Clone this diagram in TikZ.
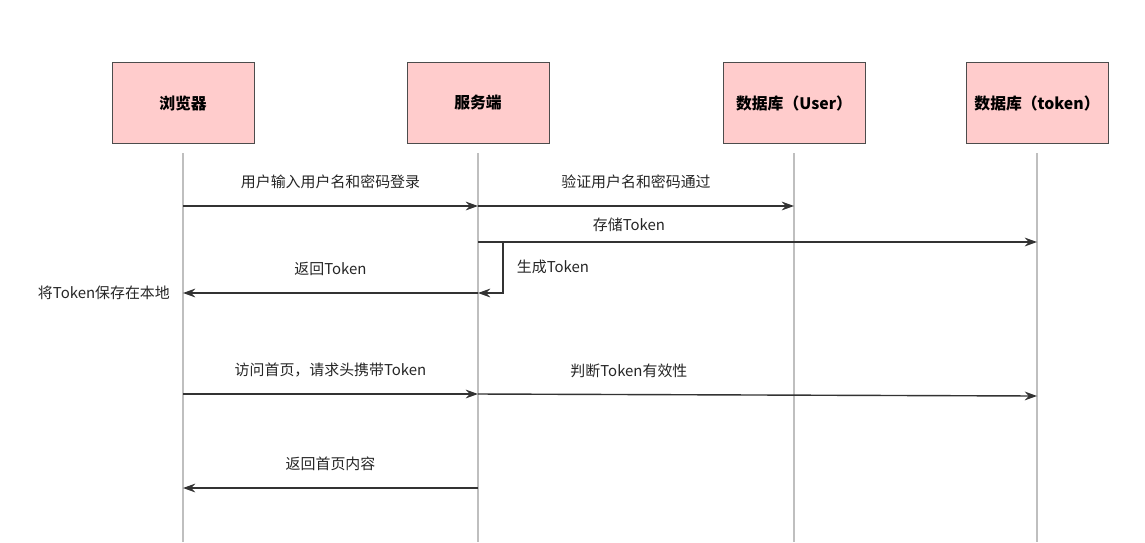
\documentclass[tikz,border=0pt]{standalone}
\usepackage{fontspec}
\setmainfont{Noto Sans CJK SC}
\usetikzlibrary{arrows.meta}
\tikzset{
  actor/.style={draw=black!70, fill=red!20, minimum width=2.84cm, minimum height=1.62cm,
    font=\fontsize{9}{11}\selectfont\bfseries},
  life/.style={draw=black!25, line width=0.6pt},
  msg/.style={draw=black!80, line width=0.8pt, -{Stealth[length=7pt,width=5pt]}},
  lbl/.style={font=\fontsize{8.5}{10}\selectfont, text=black!85}
}
\begin{document}
\begin{tikzpicture}[x=0.02cm, y=-0.02cm]
  \useasboundingbox (0,0) rectangle (1145,542);
  %% actors
  \node[actor] (browser) at (183,103) {浏览器};
  \node[actor] (server) at (478,103) {服务端};
  \node[actor] (dbuser) at (794,103) {数据库（User）};
  \node[actor] (dbtoken) at (1037,103) {数据库（token）};
  %% lifelines
  \foreach \a/\x in {browser/183, server/478, dbuser/794, dbtoken/1037} {
    \coordinate (\a top) at (\x,153);
    \coordinate (\a bot) at (\x,542);
    \draw[life] (\a top) -- (\a bot);
  }
  %% messages
  \coordinate (m1a) at (183,206); \coordinate (m1b) at (478,206);
  \coordinate (m2b) at (794,206);
  \coordinate (m3a) at (478,242); \coordinate (m3b) at (1037,242);
  \coordinate (m4a) at (478,293); \coordinate (m4b) at (183,293);
  \coordinate (m5a) at (183,394); \coordinate (m5b) at (478,394);
  \coordinate (m6b) at (1037,396);
  \coordinate (m7a) at (478,488); \coordinate (m7b) at (183,488);
  \draw[msg] (m1a) -- node[lbl, above=6pt] {用户输入用户名和密码登录} (m1b);
  \draw[msg] (m1b) -- node[lbl, above=6pt] {验证用户名和密码通过} (m2b);
  \draw[msg] (m3a) -- node[lbl, above=2pt, pos=0.27] {存储Token} (m3b);
  \draw[msg] (m3a) -- ++(25,0) |- (m4a);
  \node[lbl] (gen) at (553,267) {生成Token};
  \draw[msg] (m4a) -- node[lbl, above=6pt] {返回Token} (m4b);
  \node[lbl, anchor=east] (save) at (176,293) {将Token保存在本地};
  \draw[msg] (m5a) -- node[lbl, above=6pt] {访问首页，请求头携带Token} (m5b);
  \draw[msg] (m5b) -- node[lbl, above=6pt, pos=0.27] {判断Token有效性} (m6b);
  \draw[msg] (m7a) -- node[lbl, above=6pt] {返回首页内容} (m7b);
\end{tikzpicture}
\end{document}
